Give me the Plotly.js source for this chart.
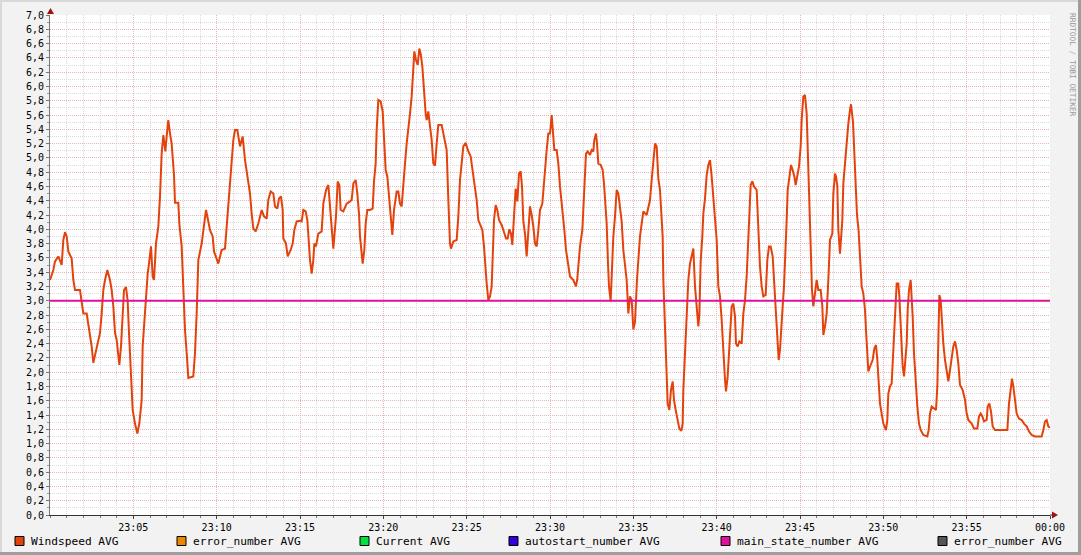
<!DOCTYPE html>
<html>
<head>
<meta charset="utf-8">
<script src="https://cdn.plot.ly/plotly-3.0.1.min.js"></script>
<style>html,body{margin:0;padding:0;background:#F2F2F2;}#chart{width:1081px;height:555px;}</style>
</head>
<body>
<div id="chart"></div>
<script>
// ---- data (minutes after 23:00) ----
const minutes = [
0.00,0.20,0.30,0.50,0.70,0.80,0.90,1.00,1.10,1.30,1.40,1.50,1.80,1.90,2.00,2.20,2.40,2.50,2.60,2.80,
3.00,3.10,3.20,3.30,3.44,3.60,3.70,3.80,3.90,4.00,4.10,4.16,4.26,4.36,4.44,4.56,4.66,4.74,4.86,4.96,
5.10,5.24,5.36,5.50,5.56,5.70,5.80,5.86,5.94,6.06,6.16,6.24,6.36,6.50,6.60,6.70,6.80,6.92,7.00,7.10,
7.20,7.30,7.44,7.50,7.70,7.76,7.90,8.00,8.10,8.20,8.30,8.60,8.70,8.80,8.90,9.10,9.24,9.36,9.44,9.60,
9.76,9.84,10.10,10.30,10.50,10.60,10.70,10.80,10.90,11.00,11.10,11.24,11.40,11.56,11.70,11.90,12.00,
12.10,12.20,12.34,12.50,12.70,12.84,13.00,13.10,13.24,13.40,13.50,13.64,13.74,13.86,13.96,14.00,14.16,
14.26,14.44,14.56,14.66,14.80,15.00,15.10,15.20,15.34,15.44,15.54,15.60,15.70,15.80,15.86,15.96,16.10,
16.30,16.40,16.56,16.70,16.80,16.90,17.00,17.16,17.26,17.36,17.44,17.60,17.80,18.00,18.10,18.20,18.34,
18.44,18.54,18.60,18.70,18.76,18.86,18.94,19.04,19.20,19.36,19.44,19.54,19.60,19.70,19.84,19.96,20.04,
20.14,20.24,20.36,20.44,20.54,20.64,20.80,20.90,21.00,21.10,21.20,21.30,21.40,21.50,21.60,21.70,21.80,
21.86,21.96,22.06,22.16,22.24,22.34,22.44,22.54,22.60,22.70,22.80,22.90,23.00,23.10,23.20,23.30,23.50,
23.64,23.80,23.90,24.00,
24.06,24.20,24.40,24.50,24.60,24.70,24.80,24.94,25.10,25.24,25.36,25.50,25.60,25.70,25.84,25.94,26.04,
26.12,26.20,26.30,26.40,26.50,26.56,26.64,26.74,26.84,26.94,27.10,27.20,27.36,27.46,27.56,27.66,27.74,
27.84,27.94,28.04,28.14,28.24,28.32,28.40,28.50,28.60,28.70,28.80,28.90,29.00,29.10,29.20,29.30,29.40,
29.54,29.64,29.74,29.80,29.90,30.00,30.10,30.16,30.26,30.40,30.50,30.60,30.74,30.86,30.96,31.10,31.20,
31.40,31.56,31.64,31.70,31.80,31.94,32.06,32.16,32.26,32.40,32.50,32.60,32.66,32.76,32.82,32.90,33.04,
33.16,33.24,33.32,33.40,33.48,33.54,33.64,33.72,33.80,33.90,34.00,34.10,34.20,34.30,34.40,34.50,34.60,
34.70,34.80,34.90,35.00,35.10,35.22,35.40,35.60,35.80,36.00,
36.10,36.16,36.24,36.30,36.40,36.50,36.60,36.70,36.76,36.80,36.86,36.94,37.00,37.06,37.16,37.26,37.36,
37.44,37.54,37.64,37.76,37.88,37.96,38.00,38.06,38.14,38.20,38.30,38.40,38.50,38.60,38.70,38.80,38.90,
38.96,39.04,39.14,39.20,39.30,39.40,39.50,39.60,39.70,39.80,39.90,40.00,40.10,40.20,40.30,40.40,40.50,
40.56,40.66,40.74,40.84,40.90,41.00,41.10,41.16,41.26,41.36,41.50,41.60,41.70,41.80,41.90,41.96,42.04,
42.14,42.24,42.40,42.50,42.60,42.70,42.80,42.94,43.04,43.14,43.24,43.36,43.44,43.56,43.64,43.72,43.80,
43.86,43.96,44.04,44.10,44.20,44.26,44.36,44.46,44.56,44.66,44.74,44.84,44.94,45.04,45.10,45.20,45.30,
45.40,45.46,45.54,45.60,45.66,45.72,45.80,45.90,46.00,46.10,46.24,46.34,46.40,46.50,46.60,46.70,46.80,
46.94,47.00,47.10,47.16,47.24,47.30,47.40,47.46,47.54,47.60,47.70,47.80,47.90,48.00,48.06,48.18,48.30,
48.42,48.51,48.60,
48.70,48.80,48.90,48.96,49.04,49.10,49.24,49.36,49.46,49.56,49.64,49.72,49.80,49.90,50.00,50.16,50.24,
50.30,50.40,50.50,50.56,50.64,50.70,50.80,50.90,50.96,51.04,51.10,51.16,51.24,51.30,51.40,51.46,51.54,
51.64,51.70,51.76,51.84,51.94,52.04,52.14,52.24,52.40,52.64,52.72,52.80,52.90,53.04,53.16,53.24,53.30,
53.36,53.44,53.50,53.60,53.70,53.80,53.90,54.00,54.10,54.20,54.30,54.40,54.50,54.60,54.76,54.90,55.00,
55.10,55.30,55.44,55.64,55.74,55.84,55.94,56.04,56.20,56.26,56.36,56.46,56.56,56.70,57.44,57.54,57.64,
57.72,57.80,57.90,58.00,58.14,58.30,58.44,58.60,58.74,58.90,59.10,59.50,59.60,59.70,59.80,59.90,60.00
];
const windspeed = [
3.29,3.43,3.55,3.62,3.50,3.85,3.96,3.90,3.69,3.59,3.29,3.15,3.15,3.00,2.82,2.82,2.55,2.36,2.13,2.36,
2.55,2.82,3.15,3.29,3.43,3.29,3.15,2.92,2.55,2.45,2.22,2.10,2.36,2.82,3.15,3.19,3.00,2.55,1.98,1.47,
1.28,1.14,1.28,1.61,2.36,2.87,3.20,3.38,3.52,3.76,3.34,3.29,3.80,4.04,4.46,5.06,5.32,5.09,5.30,5.53,
5.34,5.20,4.76,4.37,4.37,4.08,3.76,3.15,2.59,2.27,1.92,1.94,2.27,2.82,3.57,3.80,4.04,4.27,4.18,3.99,
3.90,3.69,3.52,3.71,3.73,4.04,4.46,4.74,4.97,5.25,5.39,5.39,5.16,5.30,4.97,4.69,4.50,
4.22,4.01,3.97,4.08,4.27,4.18,4.15,4.41,4.53,4.50,4.32,4.29,4.43,4.46,4.27,3.87,3.80,
3.62,3.71,3.80,3.99,4.11,4.12,4.11,4.27,4.25,4.13,3.73,3.57,3.38,3.57,3.80,3.76,3.94,
3.97,4.36,4.55,4.62,4.32,3.99,3.73,4.18,4.67,4.62,4.27,4.25,4.36,4.39,4.41,4.64,4.69,
4.50,4.22,3.90,3.71,3.52,3.71,4.08,4.27,4.27,4.29,4.67,4.92,5.39,5.81,5.79,5.65,5.25,
4.83,4.74,4.41,4.08,3.92,4.27,4.53,4.53,4.36,4.32,4.69,4.92,5.20,5.46,5.62,5.86,6.18,
6.49,6.37,6.30,6.53,6.46,6.28,5.90,5.62,5.53,5.65,5.44,5.25,4.92,4.89,5.20,5.46,5.46,
5.30,5.11,4.41,3.80,
3.73,3.83,3.85,4.18,4.69,4.92,5.16,5.21,5.09,5.02,4.83,4.64,4.41,4.13,4.04,3.99,3.76,
3.48,3.24,3.01,3.06,3.20,3.52,4.13,4.34,4.27,4.13,4.06,3.99,3.87,3.87,4.00,3.94,3.78,
4.18,4.57,4.39,4.78,4.81,4.60,4.11,3.94,3.62,3.99,4.32,4.20,4.04,3.80,3.76,3.99,4.27,
4.36,4.69,4.88,5.11,5.34,5.34,5.60,5.39,5.11,5.11,4.92,4.60,4.32,3.99,3.71,3.52,3.34,
3.29,3.20,3.31,3.52,3.76,3.99,4.64,5.06,5.09,5.04,5.11,5.09,5.25,5.34,5.20,4.92,4.90,
4.83,4.64,4.36,4.08,3.52,3.20,2.99,3.43,3.90,4.18,4.55,4.50,4.29,4.11,3.71,3.52,3.29,
2.82,3.06,3.01,2.60,2.70,3.30,3.90,4.25,4.20,4.41,
4.69,4.88,5.09,5.20,5.16,4.71,4.55,4.18,3.90,3.29,2.87,2.45,2.12,1.56,1.47,1.75,1.87,
1.61,1.47,1.33,1.21,1.18,1.28,1.75,2.10,2.50,2.92,3.29,3.52,3.62,3.73,3.20,2.92,2.64,
2.80,3.55,3.90,4.22,4.43,4.76,4.90,4.97,4.74,4.41,4.18,3.85,3.20,3.06,2.73,2.22,1.89,
1.73,1.94,2.26,2.64,2.92,2.96,2.78,2.40,2.36,2.43,2.40,2.82,3.01,3.34,3.85,4.13,4.62,
4.67,4.60,4.55,3.90,3.48,3.20,3.06,3.08,3.57,3.76,3.76,3.62,3.29,2.78,2.50,2.17,2.31,
2.61,2.92,3.20,3.48,4.13,4.55,4.74,4.90,4.83,4.74,4.62,4.74,4.88,5.16,5.53,5.86,5.88,
5.62,5.16,4.60,4.22,3.76,3.15,2.92,3.10,3.29,3.15,3.15,2.92,2.52,2.64,2.82,3.29,3.85,
3.94,4.50,4.78,4.74,4.60,3.99,3.66,3.90,4.13,4.64,4.97,5.25,5.48,5.67,5.75,5.50,4.80,
4.20,4.00,3.57,
3.20,3.10,2.87,2.59,2.31,2.01,2.10,2.17,2.33,2.38,2.17,1.80,1.56,1.42,1.28,1.19,1.33,
1.70,1.80,1.84,2.08,2.45,2.78,3.24,3.24,3.06,2.73,2.36,2.08,1.94,2.12,2.40,2.87,3.15,
3.29,3.10,2.78,2.26,1.80,1.52,1.28,1.19,1.12,1.10,1.19,1.42,1.52,1.49,1.47,1.80,2.64,
3.08,3.01,2.73,2.40,2.17,2.03,1.87,2.03,2.22,2.36,2.43,2.31,2.12,1.82,1.75,1.61,1.42,
1.33,1.28,1.21,1.21,1.38,1.42,1.38,1.31,1.33,1.52,1.56,1.45,1.24,1.19,1.19,1.56,1.80,
1.91,1.80,1.56,1.42,1.35,1.33,1.28,1.24,1.17,1.12,1.10,1.10,1.19,1.31,1.33,1.24,1.22
];
const mainStateMinutes = [0, 60];
const mainState = [3.0, 3.0];

const tickMinutes = [5,10,15,20,25,30,35,40,45,50,55,60];
const tickLabels = ["23:05","23:10","23:15","23:20","23:25","23:30","23:35","23:40","23:45","23:50","23:55","00:00"];

const legendNames = ["Windspeed AVG","error_number AVG","Current AVG","autostart_number AVG","main_state_number AVG","error_number AVG"];
const legendColors = ["#E4420C","#EA8800","#00E040","#3300E0","#E0109A","#555555"];
const legendX = [15, 177, 360, 509, 721, 938];   // pixel left of swatch

// ---- layout helpers (pixel -> paper) ----
const L = 50, R = 1050, T = 15, B = 515;
const px = X => (X - L) / (R - L);
const py = Y => (B - Y) / (B - T);

const mono = "DejaVu Sans Mono, monospace";
const shapes = [];
const annotations = [];

// frame borders
shapes.push({type:'rect', xref:'paper', yref:'paper', x0:px(0), x1:px(1081), y0:py(0), y1:py(2), fillcolor:'#D8D8D8', line:{width:0}, layer:'below'});
shapes.push({type:'rect', xref:'paper', yref:'paper', x0:px(0), x1:px(2), y0:py(0), y1:py(555), fillcolor:'#D8D8D8', line:{width:0}, layer:'below'});
shapes.push({type:'rect', xref:'paper', yref:'paper', x0:px(0), x1:px(1081), y0:py(552), y1:py(555), fillcolor:'#9E9E9E', line:{width:0}});
shapes.push({type:'rect', xref:'paper', yref:'paper', x0:px(1078), x1:px(1081), y0:py(0), y1:py(555), fillcolor:'#9E9E9E', line:{width:0}});

// axis arrows
shapes.push({type:'path', xref:'paper', yref:'paper',
  path:`M ${px(47)} ${py(14)} L ${px(54)} ${py(14)} L ${px(50.5)} ${py(8)} Z`, fillcolor:'#A01010', line:{width:0}});
shapes.push({type:'line', xref:'paper', yref:'paper', x0:px(1050), x1:px(1054), y0:0, y1:0, line:{color:'#333', width:1}});
shapes.push({type:'path', xref:'paper', yref:'paper',
  path:`M ${px(1052)} ${py(511.5)} L ${px(1052)} ${py(518.5)} L ${px(1058)} ${py(515)} Z`, fillcolor:'#A01010', line:{width:0}});

// legend
legendNames.forEach((name, i) => {
  const x0 = legendX[i];
  shapes.push({type:'rect', xref:'paper', yref:'paper', x0:px(x0), x1:px(x0+9), y0:py(545.5), y1:py(536.5),
    fillcolor:legendColors[i], line:{color:'#000', width:1}});
  annotations.push({xref:'paper', yref:'paper', x:px(x0+14), y:py(541), xanchor:'left', yanchor:'middle',
    text:name, showarrow:false, font:{family:mono, size:11.2, color:'#000'}});
});

// watermark
annotations.push({xref:'paper', yref:'paper', x:px(1072), y:py(65), xanchor:'center', yanchor:'middle',
  text:'RRDTOOL / TOBI OETIKER', textangle:90, showarrow:false, font:{family:mono, size:7.8, color:'#999999'}});

const traces = [
  {x: minutes, y: windspeed, type:'scatter', mode:'lines', name:legendNames[0],
   line:{color:legendColors[0], width:2, shape:'linear'}, hoverinfo:'skip'},
  {x: mainStateMinutes, y: mainState, type:'scatter', mode:'lines', name:legendNames[4],
   line:{color:legendColors[4], width:2}, hoverinfo:'skip'}
];

const layout = {
  width:1081, height:555,
  margin:{l:L, r:1081-R, t:T, b:555-B, pad:0},
  paper_bgcolor:'#F2F2F2', plot_bgcolor:'#FFFFFF',
  showlegend:false,
  separators:',.',
  font:{family:mono, size:10, color:'#000'},
  xaxis:{
    range:[0,60], tickmode:'array', tickvals:tickMinutes, ticktext:tickLabels,
    showgrid:true, gridcolor:'#E8B4B4', griddash:'1px,1px', gridwidth:1,
    ticks:'outside', ticklen:3, tickcolor:'#444', tickfont:{family:mono, size:10, color:'#000'},
    showline:true, linecolor:'#333', linewidth:1, zeroline:false, fixedrange:true,
    minor:{tickmode:'linear', tick0:0, dtick:1, showgrid:true, gridcolor:'#DADADA', griddash:'1px,1px', gridwidth:1, ticks:'outside', ticklen:2, tickcolor:'#777'}
  },
  yaxis:{
    range:[0,7], tickmode:'linear', tick0:0, dtick:0.2, tickformat:'.1f',
    showgrid:true, gridcolor:'#E8B4B4', griddash:'1px,1px', gridwidth:1,
    ticks:'outside', ticklen:3, tickcolor:'#777', tickfont:{family:mono, size:10, color:'#000'},
    showline:true, linecolor:'#777', linewidth:1, zeroline:false, fixedrange:true,
    minor:{tickmode:'linear', tick0:0, dtick:0.1, showgrid:true, gridcolor:'#DADADA', griddash:'1px,1px', gridwidth:1, ticks:'outside', ticklen:2, tickcolor:'#999'}
  },
  shapes: shapes,
  annotations: annotations
};

Plotly.newPlot('chart', traces, layout, {staticPlot:true, displayModeBar:false});
</script>
</body>
</html>
